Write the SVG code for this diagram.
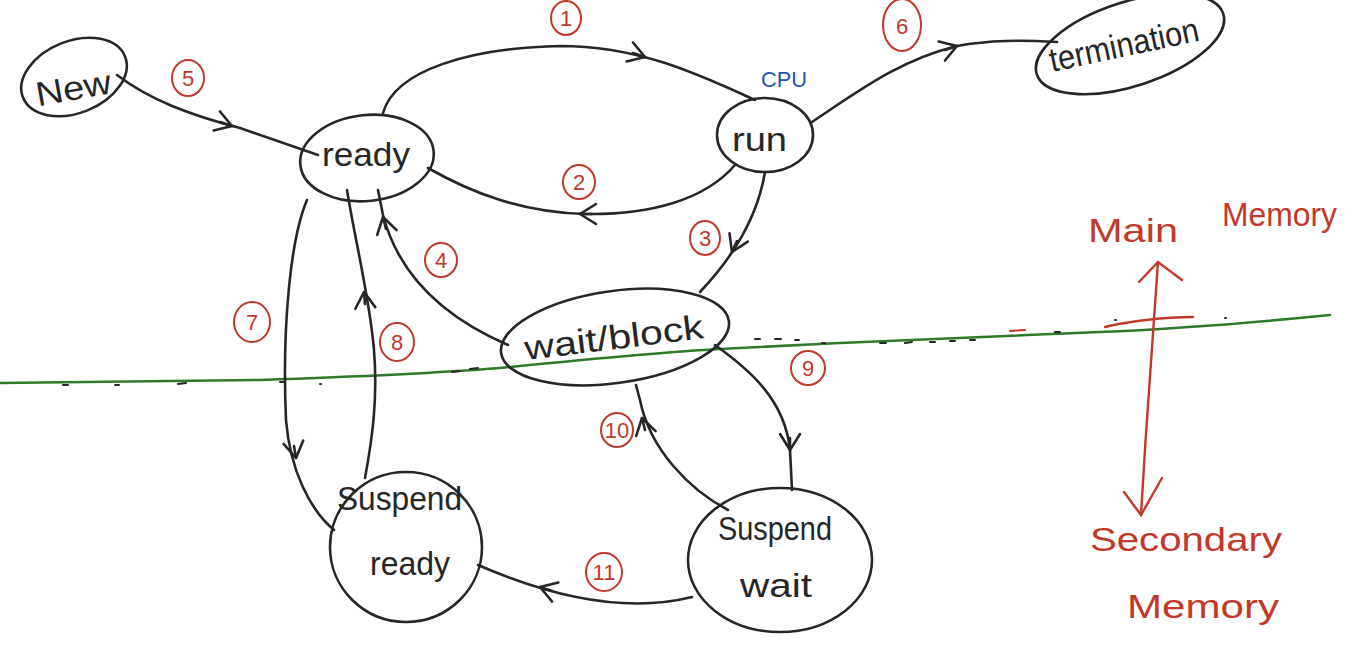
<svg xmlns="http://www.w3.org/2000/svg" width="1352" height="657" viewBox="0 0 1352 657">
<style>
.bg{fill:#ffffff}
.node{fill:none;stroke:#262626;stroke-width:2.6}
.lbl{font-family:"Liberation Sans",Arial,sans-serif;fill:#262626;font-size:34px}
.edge{fill:none;stroke:#262626;stroke-width:2.6;stroke-linecap:round}
.num circle,.num ellipse{fill:none;stroke:#c0392b;stroke-width:2}
.num text{font-family:"Liberation Sans",Arial,sans-serif;fill:#c0392b;font-size:22px;text-anchor:middle}
.red{font-family:"Liberation Sans",Arial,sans-serif;fill:#c0392b;font-size:34px}
.redline{fill:none;stroke:#c0392b;stroke-width:2.4;stroke-linecap:round}
.green{fill:none;stroke:#2f7a2a;stroke-width:2.6;stroke-linecap:round}
.dash{fill:none;stroke:#262626;stroke-width:2;stroke-linecap:round}
</style>
<defs>
<marker id="chev" viewBox="0 0 24 24" refX="20" refY="12" markerWidth="24" markerHeight="24" markerUnits="userSpaceOnUse" orient="auto">
<path d="M4 2 L20 12 L4 22" fill="none" stroke="#262626" stroke-width="2.6" stroke-linecap="round" stroke-linejoin="round"/>
</marker>
</defs>
<rect class="bg" x="0" y="0" width="1352" height="657"/>

<!-- memory boundary -->
<g id="boundary">
<path class="green" d="M0,383 C100,382 200,381 260,380 C380,376 450,372 500,368 C600,358 680,351 720,349 C850,342 1000,336 1100,332 C1200,328 1280,320 1330,315"/>
<path class="dash" d="M63,385 L68,385 M115,385 L119,385 M178,384 L186,383 M280,382 L284,382 M320,384 L321,384 M452,372 L460,371 M470,369 L478,368 M755,339 L760,339 M775,339 L781,339 M795,340 L799,340 M822,343 L825,343 M880,343 L886,343 M905,343 L912,342 M930,342 L935,342 M950,341 L955,341 M970,340 L975,340 M1055,332 L1060,332 M1115,320 L1116,320 M1225,318 L1226,318"/>
<path d="M1010,331 L1025,330" fill="none" stroke="#c0392b" stroke-width="2" stroke-linecap="round"/>
</g>

<g id="memory-axis">
<path class="redline" d="M1158,262 C1152,340 1146,430 1141,515"/>
<path class="redline" d="M1139,282 L1158,262 L1182,280"/>
<path class="redline" d="M1124,492 L1141,515 L1162,478"/>
<path class="redline" d="M1105,327 C1130,321 1165,317 1193,317"/>
<text class="red" x="1088" y="242" textLength="90" lengthAdjust="spacingAndGlyphs">Main</text>
<text class="red" x="1222" y="226" textLength="115" lengthAdjust="spacingAndGlyphs">Memory</text>
<text class="red" x="1090" y="551" textLength="192" lengthAdjust="spacingAndGlyphs">Secondary</text>
<text class="red" x="1127" y="618" textLength="152" lengthAdjust="spacingAndGlyphs">Memory</text>
</g>

<!-- nodes -->
<g id="node-new">
<ellipse class="node" cx="74" cy="77" rx="55" ry="36" transform="rotate(-22 74 77)"/>
<text class="lbl" x="35" y="100" font-size="38" transform="rotate(-10 72 86)" textLength="76" lengthAdjust="spacingAndGlyphs">New</text>
</g>
<g id="node-ready">
<ellipse class="node" cx="367" cy="158" rx="67" ry="43" transform="rotate(-6 367 158)"/>
<text class="lbl" x="322" y="166" textLength="88" lengthAdjust="spacingAndGlyphs">ready</text>
</g>
<g id="node-run">
<ellipse class="node" cx="765" cy="135" rx="48" ry="37"/>
<text class="lbl" x="732" y="151" textLength="55" lengthAdjust="spacingAndGlyphs">run</text>
<text x="761" y="87" font-family="'Liberation Sans',Arial,sans-serif" font-size="22" fill="#2554b0" textLength="46" lengthAdjust="spacingAndGlyphs">CPU</text>
</g>
<g id="node-termination">
<ellipse class="node" cx="1130" cy="44" rx="98" ry="42" transform="rotate(-18 1130 44)"/>
<text class="lbl" x="1052" y="72" font-size="29" transform="rotate(-12 1052 72)" textLength="152" lengthAdjust="spacingAndGlyphs">termination</text>
</g>
<g id="node-wait">
<ellipse class="node" cx="615" cy="337" rx="115" ry="46" transform="rotate(-8 615 337)"/>
<text class="lbl" x="526" y="360" font-size="38" transform="rotate(-7 526 360)" textLength="180" lengthAdjust="spacingAndGlyphs">wait/block</text>
</g>
<g id="node-suspend-ready">
<ellipse class="node" cx="406" cy="547" rx="76" ry="75"/>
<text class="lbl" x="337" y="510" textLength="125" lengthAdjust="spacingAndGlyphs">Suspend</text>
<text class="lbl" x="370" y="575" textLength="80" lengthAdjust="spacingAndGlyphs">ready</text>
</g>
<g id="node-suspend-wait">
<ellipse class="node" cx="780" cy="560" rx="92" ry="72"/>
<text class="lbl" x="718" y="540" textLength="114" lengthAdjust="spacingAndGlyphs">Suspend</text>
<text class="lbl" x="740" y="597" textLength="72" lengthAdjust="spacingAndGlyphs">wait</text>
</g>

<!-- connectors -->
<g id="connectors">
<path class="edge" d="M383,113 C395,70 470,48 560,46 C640,46 700,75 755,100"/>
<path class="edge" d="M633,53 L645,57" marker-end="url(#chev)"/>
<path class="edge" d="M735,165 C705,200 650,215 585,214 C520,212 470,192 428,168"/>
<path class="edge" d="M592,214 L580,214" marker-end="url(#chev)"/>
<path class="edge" d="M765,172 C758,215 735,255 700,292"/>
<path class="edge" d="M737,241 L732,252" marker-end="url(#chev)"/>
<path class="edge" d="M508,345 C450,320 400,280 383,215 L378,190"/>
<path class="edge" d="M386,229 L383,217" marker-end="url(#chev)"/>
<path class="edge" d="M117,75 C150,100 190,115 240,128 L318,155"/>
<path class="edge" d="M220,122 L232,126" marker-end="url(#chev)"/>
<path class="edge" d="M812,122 C860,90 900,60 957,46 C990,40 1020,40 1057,42"/>
<path class="edge" d="M945,50 L957,46" marker-end="url(#chev)"/>
<path class="edge" d="M307,200 C290,240 282,330 286,420 C290,470 310,510 334,530"/>
<path class="edge" d="M294,446 L296,458" marker-end="url(#chev)"/>
<path class="edge" d="M365,478 C372,440 378,400 374,350 C370,300 355,240 347,190"/>
<path class="edge" d="M365,304 L364,292" marker-end="url(#chev)"/>
<path class="edge" d="M715,345 C750,370 785,400 790,450 L792,490"/>
<path class="edge" d="M790,438 L790,450" marker-end="url(#chev)"/>
<path class="edge" d="M728,510 C690,490 650,450 640,400 L636,385"/>
<path class="edge" d="M645,430 L642,418" marker-end="url(#chev)"/>
<path class="edge" d="M692,597 C640,610 570,605 478,565"/>
<path class="edge" d="M552,591 L540,587" marker-end="url(#chev)"/>
</g>

<!-- transition numbers -->
<g id="labels">
<g class="num"><ellipse cx="566" cy="18" rx="15" ry="17"/><text x="566" y="26">1</text></g>
<g class="num"><ellipse cx="579" cy="182" rx="16" ry="17"/><text x="579" y="190">2</text></g>
<g class="num"><ellipse cx="705" cy="238" rx="15" ry="17"/><text x="705" y="246">3</text></g>
<g class="num"><ellipse cx="441" cy="260" rx="16" ry="17"/><text x="441" y="268">4</text></g>
<g class="num"><ellipse cx="188" cy="78" rx="16" ry="18"/><text x="188" y="86">5</text></g>
<g class="num"><ellipse cx="902" cy="25" rx="19" ry="26"/><text x="902" y="34">6</text></g>
<g class="num"><ellipse cx="252" cy="322" rx="18" ry="20"/><text x="252" y="330">7</text></g>
<g class="num"><ellipse cx="397" cy="342" rx="17" ry="19"/><text x="397" y="350">8</text></g>
<g class="num"><ellipse cx="808" cy="368" rx="17" ry="17"/><text x="808" y="376">9</text></g>
<g class="num"><ellipse cx="617" cy="430" rx="16" ry="17"/><text x="617" y="438">10</text></g>
<g class="num"><ellipse cx="604" cy="572" rx="18" ry="19"/><text x="604" y="580">11</text></g>
</g>
</svg>
